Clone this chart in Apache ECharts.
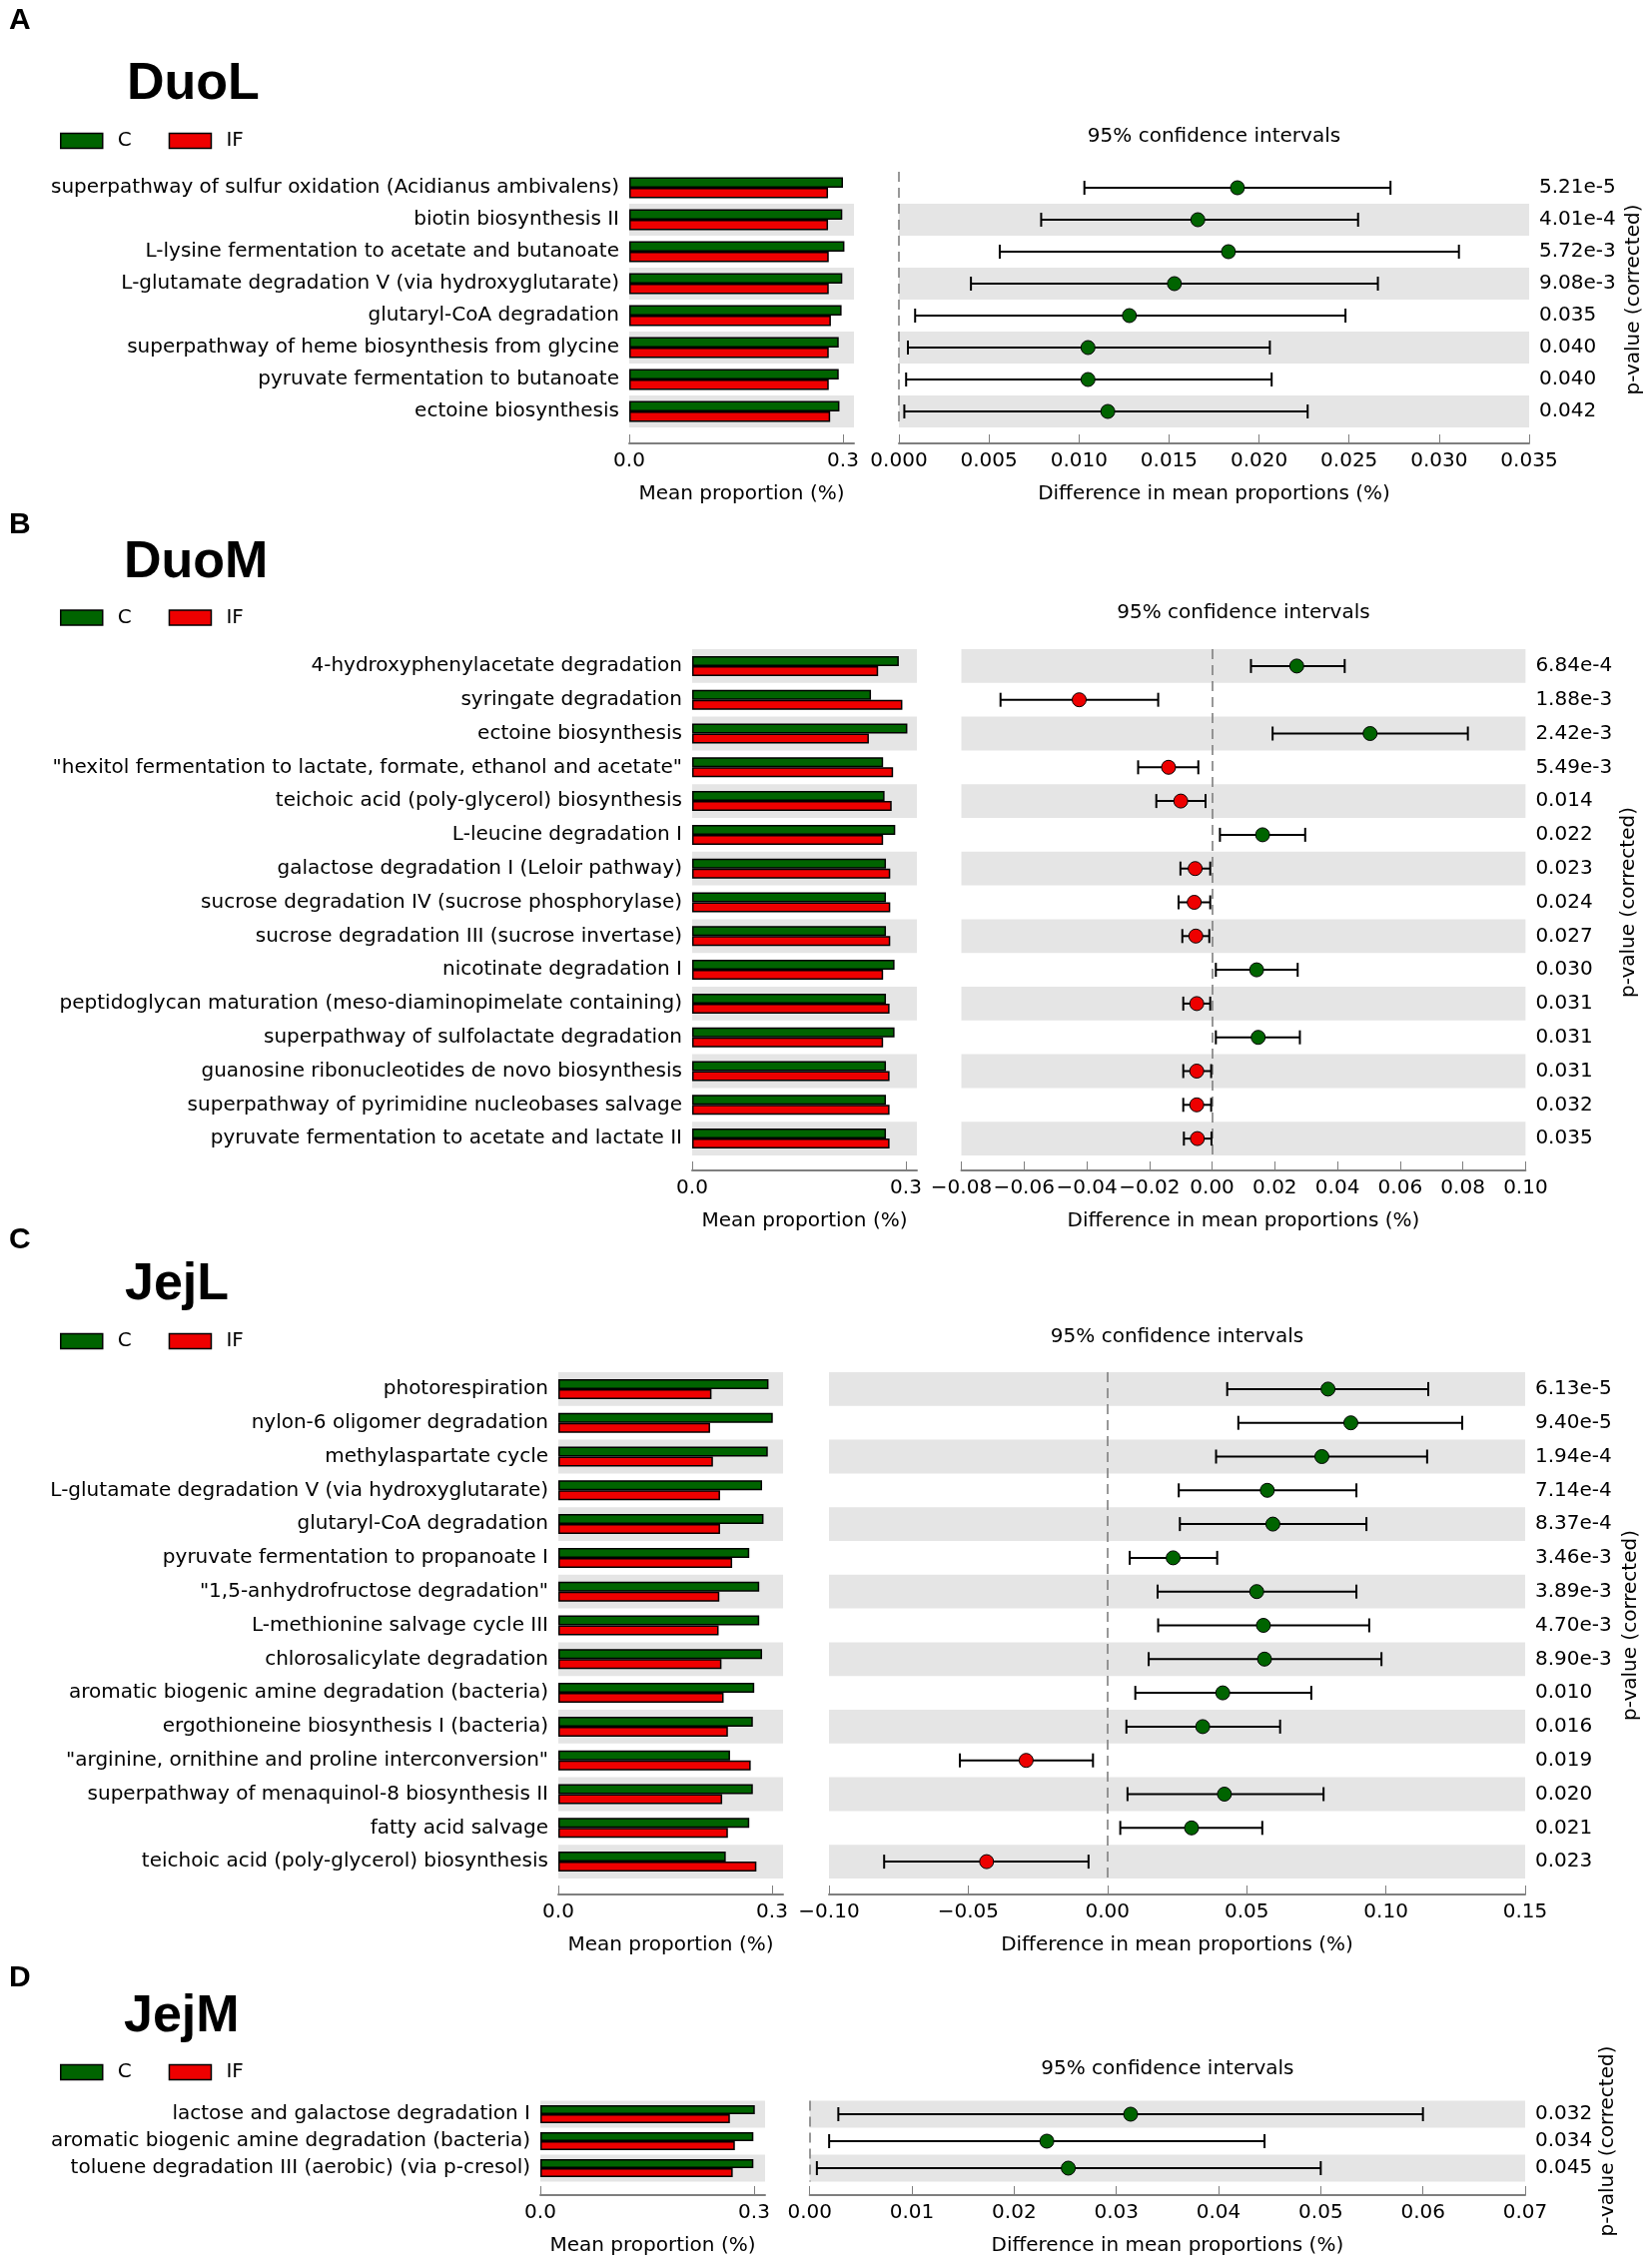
<!DOCTYPE html>
<html>
<head>
<meta charset="utf-8">
<script src="https://cdn.jsdelivr.net/npm/echarts@6/dist/echarts.min.js"></script>
<style>
  html, body { margin: 0; padding: 0; background: #fff; }
  #main { width: 1654px; height: 2271px; }
</style>
</head>
<body>
<div id="main"></div>
<script>
// ---------------- DATA ----------------
const groupNames = ['C', 'IF'];
const barTickValues = [0, 0.3];

// Panel A : DuoL
const duoL_pathways = [
  'superpathway of sulfur oxidation (Acidianus ambivalens)',
  'biotin biosynthesis II',
  'L-lysine fermentation to acetate and butanoate',
  'L-glutamate degradation V (via hydroxyglutarate)',
  'glutaryl-CoA degradation',
  'superpathway of heme biosynthesis from glycine',
  'pyruvate fermentation to butanoate',
  'ectoine biosynthesis'
];
const duoL_C    = [0.300, 0.299, 0.302, 0.299, 0.298, 0.294, 0.294, 0.295];
const duoL_IF   = [0.279, 0.279, 0.280, 0.280, 0.283, 0.280, 0.280, 0.282];
const duoL_diff = [0.0188, 0.0166, 0.0183, 0.0153, 0.0128, 0.0105, 0.0105, 0.0116];
const duoL_low  = [0.0103, 0.0079, 0.0056, 0.0040, 0.0009, 0.0005, 0.0004, 0.0003];
const duoL_high = [0.0273, 0.0255, 0.0311, 0.0266, 0.0248, 0.0206, 0.0207, 0.0227];
const duoL_p    = ['5.21e-5', '4.01e-4', '5.72e-3', '9.08e-3', '0.035', '0.040', '0.040', '0.042'];

// Panel B : DuoM
const duoM_pathways = [
  '4-hydroxyphenylacetate degradation',
  'syringate degradation',
  'ectoine biosynthesis',
  '"hexitol fermentation to lactate, formate, ethanol and acetate"',
  'teichoic acid (poly-glycerol) biosynthesis',
  'L-leucine degradation I',
  'galactose degradation I (Leloir pathway)',
  'sucrose degradation IV (sucrose phosphorylase)',
  'sucrose degradation III (sucrose invertase)',
  'nicotinate degradation I',
  'peptidoglycan maturation (meso-diaminopimelate containing)',
  'superpathway of sulfolactate degradation',
  'guanosine ribonucleotides de novo biosynthesis',
  'superpathway of pyrimidine nucleobases salvage',
  'pyruvate fermentation to acetate and lactate II'
];
const duoM_C    = [0.290, 0.251, 0.302, 0.268, 0.270, 0.285, 0.272, 0.272, 0.272, 0.284, 0.272, 0.284, 0.272, 0.272, 0.272];
const duoM_IF   = [0.261, 0.295, 0.248, 0.282, 0.280, 0.268, 0.278, 0.278, 0.278, 0.268, 0.277, 0.268, 0.277, 0.277, 0.277];
const duoM_diff = [0.0270, -0.0424, 0.0504, -0.0139, -0.0100, 0.0161, -0.0054, -0.0057, -0.0052, 0.0142, -0.0049, 0.0147, -0.0049, -0.0049, -0.0047];
const duoM_low  = [0.0124, -0.0675, 0.0193, -0.0236, -0.0178, 0.0025, -0.0101, -0.0107, -0.0095, 0.0012, -0.0092, 0.0012, -0.0092, -0.0092, -0.0090];
const duoM_high = [0.0423, -0.0172, 0.0816, -0.0044, -0.0021, 0.0297, -0.0006, -0.0006, -0.0009, 0.0273, -0.0006, 0.0280, -0.0003, -0.0003, -0.0002];
const duoM_p    = ['6.84e-4', '1.88e-3', '2.42e-3', '5.49e-3', '0.014', '0.022', '0.023', '0.024', '0.027', '0.030', '0.031', '0.031', '0.031', '0.032', '0.035'];

// Panel C : JejL
const jejL_pathways = [
  'photorespiration',
  'nylon-6 oligomer degradation',
  'methylaspartate cycle',
  'L-glutamate degradation V (via hydroxyglutarate)',
  'glutaryl-CoA degradation',
  'pyruvate fermentation to propanoate I',
  '"1,5-anhydrofructose degradation"',
  'L-methionine salvage cycle III',
  'chlorosalicylate degradation',
  'aromatic biogenic amine degradation (bacteria)',
  'ergothioneine biosynthesis I (bacteria)',
  '"arginine, ornithine and proline interconversion"',
  'superpathway of menaquinol-8 biosynthesis II',
  'fatty acid salvage',
  'teichoic acid (poly-glycerol) biosynthesis'
];
const jejL_C    = [0.295, 0.301, 0.294, 0.286, 0.288, 0.268, 0.282, 0.282, 0.286, 0.275, 0.273, 0.241, 0.273, 0.268, 0.235];
const jejL_IF   = [0.215, 0.213, 0.217, 0.227, 0.227, 0.244, 0.226, 0.225, 0.229, 0.232, 0.238, 0.270, 0.230, 0.238, 0.278];
const jejL_diff = [0.0792, 0.0874, 0.0770, 0.0574, 0.0594, 0.0236, 0.0536, 0.0560, 0.0564, 0.0414, 0.0342, -0.0292, 0.0420, 0.0302, -0.0434];
const jejL_low  = [0.0430, 0.0470, 0.0390, 0.0256, 0.0260, 0.0080, 0.0180, 0.0182, 0.0148, 0.0100, 0.0068, -0.0530, 0.0072, 0.0046, -0.0802];
const jejL_high = [0.1152, 0.1274, 0.1148, 0.0894, 0.0930, 0.0394, 0.0894, 0.0940, 0.0984, 0.0732, 0.0620, -0.0052, 0.0776, 0.0556, -0.0068];
const jejL_p    = ['6.13e-5', '9.40e-5', '1.94e-4', '7.14e-4', '8.37e-4', '3.46e-3', '3.89e-3', '4.70e-3', '8.90e-3', '0.010', '0.016', '0.019', '0.020', '0.021', '0.023'];

// Panel D : JejM
const jejM_pathways = [
  'lactose and galactose degradation I',
  'aromatic biogenic amine degradation (bacteria)',
  'toluene degradation III (aerobic) (via p-cresol)'
];
const jejM_C    = [0.301, 0.299, 0.299];
const jejM_IF   = [0.266, 0.273, 0.270];
const jejM_diff = [0.0314, 0.0232, 0.0253];
const jejM_low  = [0.0028, 0.0019, 0.0007];
const jejM_high = [0.0600, 0.0445, 0.0500];
const jejM_p    = ['0.032', '0.034', '0.045'];

// ---------------- PANELS ----------------
const panels = [
  { letter: 'A', title: 'DuoL', names: duoL_pathways, c: duoL_C, f: duoL_IF, diff: duoL_diff, lo: duoL_low, hi: duoL_high, p: duoL_p,
    ciMin: 0, ciMax: 0.035, ciStep: 0.005, dec: 3,
    L: { letterY: 21, titleX: 127, titleY: 85, legendY: 138, headerY: 137, top: 172, height: 256,
         barLeft: 630, ciLeft: 900, ciRight: 1531, offset: 16, barW: 10.5, pNameX: 1636 } },
  { letter: 'B', title: 'DuoM', names: duoM_pathways, c: duoM_C, f: duoM_IF, diff: duoM_diff, lo: duoM_low, hi: duoM_high, p: duoM_p,
    ciMin: -0.08, ciMax: 0.10, ciStep: 0.02, dec: 2,
    L: { letterY: 526, titleX: 124, titleY: 564, legendY: 615.5, headerY: 614, top: 650, height: 507,
         barLeft: 693, ciLeft: 962.5, ciRight: 1527.4, offset: 15, barW: 10, pNameX: 1631 } },
  { letter: 'C', title: 'JejL', names: jejL_pathways, c: jejL_C, f: jejL_IF, diff: jejL_diff, lo: jejL_low, hi: jejL_high, p: jejL_p,
    ciMin: -0.10, ciMax: 0.15, ciStep: 0.05, dec: 2,
    L: { letterY: 1242, titleX: 125, titleY: 1287, legendY: 1340, headerY: 1339, top: 1374, height: 507,
         barLeft: 559, ciLeft: 830, ciRight: 1527, offset: 16, barW: 10, pNameX: 1633 } },
  { letter: 'D', title: 'JejM', names: jejM_pathways, c: jejM_C, f: jejM_IF, diff: jejM_diff, lo: jejM_low, hi: jejM_high, p: jejM_p,
    ciMin: 0, ciMax: 0.07, ciStep: 0.01, dec: 2,
    L: { letterY: 1981, titleX: 124, titleY: 2020, legendY: 2072, headerY: 2072, top: 2103.5, height: 81,
         barLeft: 541, ciLeft: 810.7, ciRight: 1527, offset: 13.5, barW: 9, pNameX: 1610 } }
];

// ---------------- STYLE ----------------
const FONT = 'DejaVu Sans';
const GREEN = '#006400';
const RED = '#ee0000';
const BAND = '#e5e5e5';
const AXIS_GRAY = '#7f7f7f';
const BAR_MAX = 0.3154;
const BAR_GRID_W = 225;

function fmtTick(v, dec) {
  if (Math.abs(v) < 1e-12) v = 0;
  return (v < 0 ? '\u2212' : '') + Math.abs(v).toFixed(dec);
}

const option = {
  animation: false,
  backgroundColor: '#ffffff',
  textStyle: { fontFamily: FONT },
  grid: [], xAxis: [], yAxis: [], series: [], legend: [], graphic: []
};

panels.forEach((P) => {
  const L = P.L;
  const n = P.names.length;
  const bands = (n % 2 === 0) ? ['rgba(255,255,255,0)', BAND] : [BAND, 'rgba(255,255,255,0)'];
  const gi = option.grid.length;

  option.grid.push({ left: L.barLeft, top: L.top, width: BAR_GRID_W, height: L.height, outerBoundsMode: 'none', containLabel: false });
  option.grid.push({ left: L.ciLeft, top: L.top, width: L.ciRight - L.ciLeft, height: L.height, outerBoundsMode: 'none', containLabel: false });

  const commonX = {
    type: 'value',
    offset: L.offset,
    axisLine: { show: true, onZero: false, lineStyle: { color: AXIS_GRAY, width: 2 } },
    splitLine: { show: false },
    nameLocation: 'middle',
    nameGap: 41,
    nameTextStyle: { fontSize: 20, color: '#000', fontFamily: FONT }
  };

  option.xAxis.push(Object.assign({}, commonX, {
    gridIndex: gi, min: 0, max: BAR_MAX,
    axisTick: { show: true, inside: true, length: 9, lineStyle: { color: AXIS_GRAY, width: 1 }, customValues: barTickValues },
    axisLabel: { customValues: barTickValues, formatter: (v) => v.toFixed(1), fontSize: 20, color: '#000', margin: 8, fontFamily: FONT },
    name: 'Mean proportion (%)'
  }));
  option.xAxis.push(Object.assign({}, commonX, {
    gridIndex: gi + 1, min: P.ciMin, max: P.ciMax, interval: P.ciStep,
    axisTick: { show: true, inside: true, length: 9, lineStyle: { color: AXIS_GRAY, width: 1 } },
    axisLabel: { formatter: (v) => fmtTick(v, P.dec), fontSize: 20, color: '#000', margin: 8, fontFamily: FONT, showMinLabel: true, showMaxLabel: true },
    name: 'Difference in mean proportions (%)'
  }));

  option.yAxis.push({
    gridIndex: gi, type: 'category', inverse: true, data: P.names,
    axisLine: { show: false }, axisTick: { show: false },
    axisLabel: { fontSize: 20, color: '#000', margin: 10, fontFamily: FONT, interval: 0 },
    splitLine: { show: false },
    splitArea: { show: true, areaStyle: { color: bands } }
  });
  option.yAxis.push({
    gridIndex: gi + 1, type: 'category', inverse: true, data: P.names, position: 'right',
    axisLine: { show: false }, axisTick: { show: false },
    axisLabel: { fontSize: 20, color: '#000', margin: 10, fontFamily: FONT, interval: 0, align: 'left',
                 formatter: (v, i) => P.p[i] },
    splitLine: { show: false },
    splitArea: { show: true, areaStyle: { color: bands } }
  });

  option.series.push({
    type: 'bar', name: groupNames[0], xAxisIndex: gi, yAxisIndex: gi, data: P.c,
    barWidth: L.barW, barGap: '0%',
    itemStyle: { color: GREEN, borderColor: '#000', borderWidth: 1.5 }
  });
  option.series.push({
    type: 'bar', name: groupNames[1], xAxisIndex: gi, yAxisIndex: gi, data: P.f,
    barWidth: L.barW, barGap: '0%',
    itemStyle: { color: RED, borderColor: '#000', borderWidth: 1.5 }
  });

  option.series.push({
    type: 'custom', xAxisIndex: gi + 1, yAxisIndex: gi + 1,
    data: P.lo.map((lo, i) => [lo, P.hi[i], i]),
    encode: { x: [0, 1], y: 2 },
    z: 3,
    renderItem: function (params, api) {
      const a = api.coord([api.value(0), api.value(2)]);
      const b = api.coord([api.value(1), api.value(2)]);
      const h = 7;
      const st = { stroke: '#000', lineWidth: 2 };
      return {
        type: 'group',
        children: [
          { type: 'line', shape: { x1: a[0], y1: a[1], x2: b[0], y2: b[1] }, style: st },
          { type: 'line', shape: { x1: a[0], y1: a[1] - h, x2: a[0], y2: a[1] + h }, style: st },
          { type: 'line', shape: { x1: b[0], y1: b[1] - h, x2: b[0], y2: b[1] + h }, style: st }
        ]
      };
    }
  });
  option.series.push({
    type: 'scatter', xAxisIndex: gi + 1, yAxisIndex: gi + 1, z: 4,
    symbol: 'circle', symbolSize: 14,
    data: P.diff.map((d, i) => ({ value: [d, i], itemStyle: { color: d >= 0 ? GREEN : RED } })),
    itemStyle: { borderColor: '#000', borderWidth: 1, opacity: 1 },
    markLine: {
      silent: true, symbol: ['none', 'none'], label: { show: false }, z: 2,
      lineStyle: { color: AXIS_GRAY, type: [10, 6], width: 1.6, opacity: 1 },
      data: [{ xAxis: 0 }]
    }
  });

  option.legend.push({
    data: groupNames, left: 55, top: L.legendY - 12,
    itemWidth: 42, itemHeight: 15, itemGap: 37, icon: 'rect', selectedMode: false,
    itemStyle: { borderColor: '#000', borderWidth: 1.5 },
    textStyle: { fontSize: 20, color: '#000', fontFamily: FONT, padding: [0, 0, 0, 10] }
  });

  option.graphic.push({ type: 'text', x: 9, y: L.letterY,
    style: { text: P.letter, fontFamily: 'Liberation Sans', fontWeight: 'bold', fontSize: 30, fill: '#000', align: 'left', verticalAlign: 'middle' } });
  option.graphic.push({ type: 'text', x: L.titleX, y: L.titleY,
    style: { text: P.title, fontFamily: 'Liberation Sans', fontWeight: 'bold', fontSize: 52, fill: '#000', align: 'left', verticalAlign: 'middle' } });
  option.graphic.push({ type: 'text', x: (L.ciLeft + L.ciRight) / 2, y: L.headerY,
    style: { text: '95% confidence intervals', fontFamily: FONT, fontSize: 20, fill: '#000', align: 'center', verticalAlign: 'middle' } });
  option.graphic.push({ type: 'text', x: L.pNameX, y: L.top + L.height / 2, rotation: Math.PI / 2,
    style: { text: 'p-value (corrected)', fontFamily: FONT, fontSize: 20, fill: '#000', align: 'center', verticalAlign: 'middle' } });
});

const chart = echarts.init(document.getElementById('main'), null, { renderer: 'canvas', width: 1654, height: 2271 });
chart.setOption(option);
</script>
</body>
</html>
